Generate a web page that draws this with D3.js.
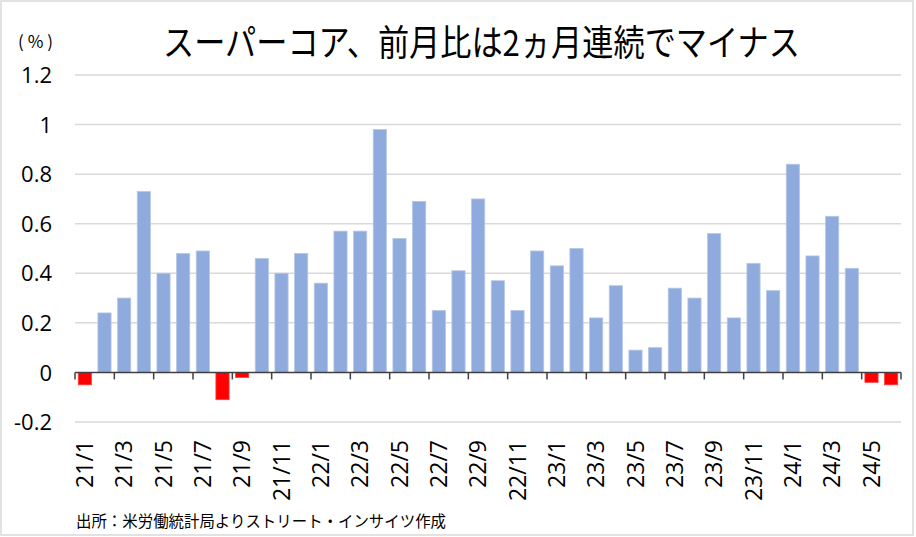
<!DOCTYPE html>
<html>
<head>
<meta charset="utf-8">
<script src="https://cdn.jsdelivr.net/npm/d3@7"></script>
<style>
  html, body { margin: 0; padding: 0; background: #fff; }
  svg { display: block; }
</style>
</head>
<body>
<svg id="chart" width="916" height="537"></svg>
<script>
const titleText = "スーパーコア、前月比は2ヵ月連続でマイナス";
const sourceText = "出所：米労働統計局よりストリート・インサイツ作成";
const unitText = "(%)";

const months = [
  "21/1","21/2","21/3","21/4","21/5","21/6","21/7","21/8","21/9","21/10","21/11","21/12",
  "22/1","22/2","22/3","22/4","22/5","22/6","22/7","22/8","22/9","22/10","22/11","22/12",
  "23/1","23/2","23/3","23/4","23/5","23/6","23/7","23/8","23/9","23/10","23/11","23/12",
  "24/1","24/2","24/3","24/4","24/5","24/6"
];
const values = [
  -0.05, 0.24, 0.30, 0.73, 0.40, 0.48, 0.49, -0.11, -0.02, 0.46, 0.40, 0.48,
  0.36, 0.57, 0.57, 0.98, 0.54, 0.69, 0.25, 0.41, 0.70, 0.37, 0.25, 0.49,
  0.43, 0.50, 0.22, 0.35, 0.09, 0.10, 0.34, 0.30, 0.56, 0.22, 0.44, 0.33,
  0.84, 0.47, 0.63, 0.42, -0.04, -0.05
];
const yTicks = [-0.2, 0, 0.2, 0.4, 0.6, 0.8, 1, 1.2];
const xTickLabels = months.filter((d, i) => i % 2 === 0);

const svg = d3.select("#chart");
const plot = { left: 75, right: 901, top: 75, bottom: 422 };

// frame
svg.append("rect")
  .attr("x", 1).attr("y", 1).attr("width", 912).attr("height", 534)
  .attr("fill", "#fff").attr("stroke", "#d9d9d9").attr("stroke-width", 1.5);

const pad = 0.33;
const x = d3.scaleBand().domain(months).range([plot.left, plot.right])
  .paddingInner(pad).paddingOuter(pad / 2);
const y = d3.scaleLinear().domain([-0.2, 1.2]).range([plot.bottom, plot.top]);

const numFont = "'Open Sans', 'Liberation Sans', sans-serif";
const jpFont = "'Noto Sans CJK JP', 'Noto Sans', sans-serif";

// gridlines
svg.append("g").selectAll("line").data(yTicks.filter(d => d !== 0)).join("line")
  .attr("x1", plot.left).attr("x2", plot.right)
  .attr("y1", d => y(d)).attr("y2", d => y(d))
  .attr("stroke", "#d9d9d9").attr("stroke-width", 1.5);

// y axis labels
const yAxis = d3.axisLeft(y).tickValues(yTicks).tickSize(0).tickPadding(0)
  .tickFormat(d => String(+d.toFixed(1)));
const yg = svg.append("g").attr("transform", "translate(52,0)").call(yAxis);
yg.select(".domain").remove();
yg.selectAll("text")
  .attr("font-family", numFont).attr("font-size", 22).attr("fill", "#000")
  .attr("dy", "0.35em");

// bars
svg.append("g").selectAll("rect").data(values).join("rect")
  .attr("x", (d, i) => x(months[i]))
  .attr("width", x.bandwidth())
  .attr("y", d => y(Math.max(0, d)))
  .attr("height", d => Math.abs(y(d) - y(0)))
  .attr("fill", d => d < 0 ? "#ff0000" : "#8faadc")
  .attr("stroke", d => d < 0 ? "#ff4040" : "#b4c7e7")
  .attr("stroke-width", 0.8);

// zero axis line and ticks
const y0 = y(0);
svg.append("line")
  .attr("x1", plot.left).attr("x2", plot.right)
  .attr("y1", y0).attr("y2", y0)
  .attr("stroke", "#404040").attr("stroke-width", 1.5);
const step = x.step();
const tickPos = d3.range(0, months.length / 2 + 1).map(k => plot.left + k * 2 * step);
svg.append("g").selectAll("line").data(tickPos).join("line")
  .attr("x1", d => d).attr("x2", d => d)
  .attr("y1", y0).attr("y2", y0 + 7)
  .attr("stroke", "#404040").attr("stroke-width", 1.5);

// x labels
svg.append("g").selectAll("text").data(xTickLabels).join("text")
  .attr("transform", d => `translate(${x(d) + x.bandwidth() / 2},440) rotate(-90)`)
  .attr("text-anchor", "end")
  .attr("dy", "0.36em")
  .attr("font-family", numFont).attr("font-size", 23).attr("fill", "#000")
  .text(d => d);

// title
svg.append("text")
  .attr("x", 163).attr("y", 56)
  .attr("font-family", jpFont).attr("font-size", 36).attr("fill", "#000")
  .attr("textLength", 637).attr("lengthAdjust", "spacingAndGlyphs")
  .text(titleText);

// unit
svg.append("text")
  .attr("x", 18).attr("y", 48)
  .attr("font-family", jpFont).attr("font-size", 17).attr("fill", "#000")
  .attr("textLength", 35).attr("lengthAdjust", "spacing")
  .text(unitText);

// source
svg.append("text")
  .attr("x", 76).attr("y", 527)
  .attr("font-family", jpFont).attr("font-size", 16).attr("fill", "#000")
  .attr("textLength", 370).attr("lengthAdjust", "spacingAndGlyphs")
  .text(sourceText);
</script>
</body>
</html>
